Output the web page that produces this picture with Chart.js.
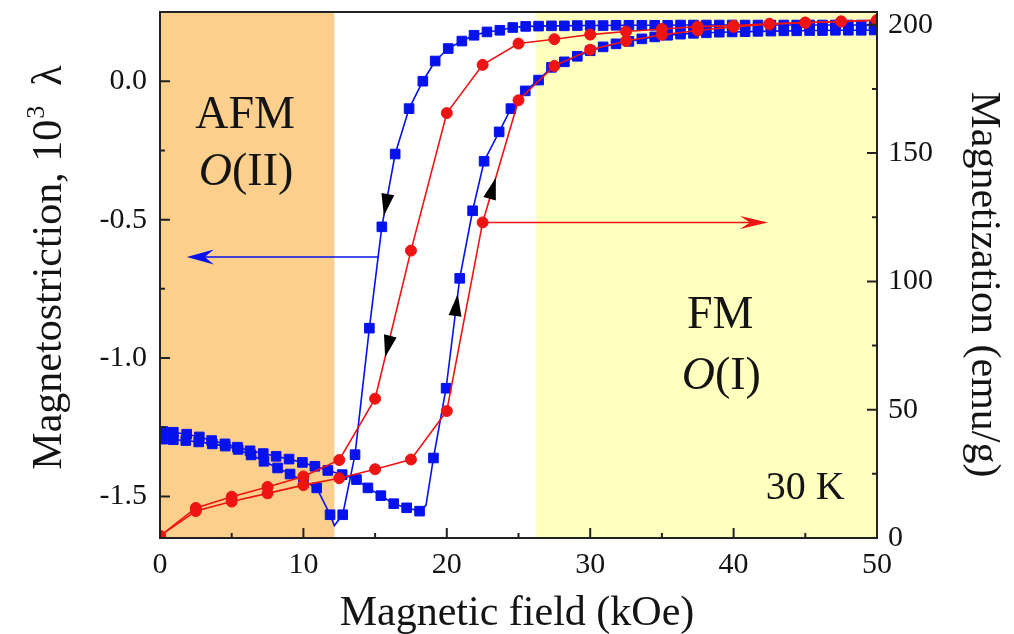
<!DOCTYPE html>
<html>
<head>
<meta charset="utf-8">
<script src="https://cdn.jsdelivr.net/npm/chart.js@4.4.0/dist/chart.umd.min.js"></script>
<style>
  html, body { margin: 0; padding: 0; background: #ffffff; }
  #wrap { width: 1014px; height: 634px; }
</style>
</head>
<body>
<div id="wrap"><canvas id="c" width="1014" height="634"></canvas></div>
<script>
// ---- Magnetization at 30 K (emu/g), one reading every 2.5 kOe ----
const fieldM = [0, 2.5, 5, 7.5, 10, 12.5, 15, 17.5, 20, 22.5, 25, 27.5, 30, 32.5, 35, 37.5, 40, 42.5, 45, 47.5, 50];
const magIncreasing = [0.8, 10.5, 14.2, 17.4, 20.6, 23.3, 26.8, 30.6, 49.5, 123, 170.6, 184, 190.3, 193.7, 196.1, 197.8, 199.2, 200.2, 200.8, 201.3, 201.8];
const magDecreasing = [0.8, 11.7, 16.1, 19.9, 24.0, 30.4, 54.3, 112, 165.6, 184.4, 192.7, 194.4, 196.2, 197.4, 198.4, 199.3, 199.7, 200.4, 200.9, 201.3, 201.8];

// ---- Magnetostriction, 10^3 lambda, field increasing ----
const fieldLambdaUp = [0.2, 0.93, 1.86, 2.74, 3.6, 4.53, 5.4, 6.28, 7.2, 8.1, 9.0, 9.93, 10.8, 11.7, 12.7,
  13.7, 14.5, 15.4, 16.3, 17.2, 18.1, 19.07, 19.95, 20.9, 21.8, 22.6, 23.65, 24.47, 25.47, 26.4,
  27.3, 28.2, 29.1, 30.0, 30.9, 31.8, 32.7, 33.6, 34.5, 35.4, 36.3, 37.2, 38.1, 39.0, 39.9,
  40.8, 41.7, 42.6, 43.5, 44.4, 45.3, 46.2, 47.1, 48.0, 48.9, 49.8];
const lambdaUp = [-1.265, -1.268, -1.275, -1.285, -1.298, -1.31, -1.322, -1.335, -1.345, -1.355, -1.365, -1.377, -1.391, -1.406, -1.421,
  -1.439, -1.469, -1.497, -1.526, -1.541, -1.553, -1.361, -1.109, -0.712, -0.468, -0.289, -0.183, -0.099, -0.035, 0.004,
  0.050, 0.070, 0.090, 0.110, 0.124, 0.135, 0.144, 0.153, 0.160, 0.166, 0.170, 0.173, 0.175, 0.177, 0.178,
  0.179, 0.180, 0.181, 0.182, 0.182, 0.183, 0.183, 0.184, 0.184, 0.184, 0.185];
// measured-curve vertices between symbols (no symbol drawn)
const fieldLambdaUpCurve = [18.55];
const lambdaUpCurve = [-1.532];

// ---- Magnetostriction, 10^3 lambda, field decreasing ----
const fieldLambdaDown = [0.2, 0.93, 1.8, 2.7, 3.65, 4.55, 5.45, 6.35, 7.25, 8.2, 9.07, 10.0, 10.93, 11.86, 12.74,
  13.6, 14.6, 15.47, 16.4, 17.37, 18.33, 19.19, 20.1, 21.05, 21.9, 22.8, 23.7, 24.6, 25.5, 26.4,
  27.3, 28.2, 29.1, 30.0, 30.9, 31.8, 32.7, 33.6, 34.5, 35.4, 36.3, 37.2, 38.1, 39.0, 39.9,
  40.8, 41.7, 42.6, 43.5, 44.4, 45.3, 46.2, 47.1, 48.0, 48.9, 49.8];
const lambdaDown = [-1.293, -1.295, -1.298, -1.303, -1.31, -1.318, -1.33, -1.35, -1.373, -1.397, -1.419, -1.445, -1.469, -1.566, -1.566,
  -1.349, -0.892, -0.526, -0.263, -0.099, 0.000, 0.073, 0.118, 0.145, 0.166, 0.178, 0.184, 0.194, 0.198, 0.199,
  0.200, 0.200, 0.201, 0.201, 0.201, 0.202, 0.202, 0.202, 0.202, 0.202, 0.203, 0.203, 0.203, 0.203, 0.203,
  0.203, 0.203, 0.203, 0.203, 0.203, 0.203, 0.203, 0.203, 0.203, 0.203, 0.203];
const fieldLambdaDownCurve = [12.16];
const lambdaDownCurve = [-1.605];

// ---- tick values ----
const fieldTicks = [0, 10, 20, 30, 40, 50];
const fieldMinorTicks = [5, 15, 25, 35, 45];
const lambdaTicks = [-1.5, -1.0, -0.5, 0.0];
const lambdaMinorTicks = [-1.25, -0.75, -0.25];
const magTicks = [0, 50, 100, 150, 200];
const magMinorTicks = [25, 75, 125, 175];

// ---- phase regions (kOe) ----
const afmRegion = [0, 12.16];
const fmRegion = [26.24, 50];

const SERIF = "'Liberation Serif', 'Times New Roman', serif";
const BLUE = '#0512EE';
const RED = '#EE1414';
const INK = '#141414';

function buildSeries(fields, values, extraFields, extraValues) {
  const pts = fields.map((f, i) => ({ x: f, y: values[i], marker: true }));
  (extraFields || []).forEach((f, i) => pts.push({ x: f, y: extraValues[i], marker: false }));
  return pts.sort((a, b) => a.x - b.x);
}

const redUp = buildSeries(fieldM, magIncreasing);
const redDown = buildSeries(fieldM, magDecreasing);
const blueUp = buildSeries(fieldLambdaUp, lambdaUp, fieldLambdaUpCurve, lambdaUpCurve);
const blueDown = buildSeries(fieldLambdaDown, lambdaDown, fieldLambdaDownCurve, lambdaDownCurve);

// sweep-direction triangles: dataset index, field (kOe), +1 = toward higher field
const sweepMarks = [
  { dataset: 3, field: 15.75, dir: -1 },
  { dataset: 1, field: 15.88, dir: -1 },
  { dataset: 0, field: 23.2, dir: 1 },
  { dataset: 2, field: 20.67, dir: 1 }
];

function fixedBox(w, h) {
  return function (s) {
    if (w !== null) s.width = w;
    if (h !== null) s.height = h;
    s.paddingTop = 0; s.paddingBottom = 0; s.paddingLeft = 0; s.paddingRight = 0;
  };
}

function pointOnSeries(chart, di, field) {
  const ds = chart.data.datasets[di];
  const xs = chart.scales.x, ys = chart.scales[ds.yAxisID];
  const d = ds.data;
  for (let i = 0; i < d.length - 1; i++) {
    const a = d[i], b = d[i + 1];
    if (field >= a.x && field <= b.x) {
      const t = (field - a.x) / (b.x - a.x);
      const ax = xs.getPixelForValue(a.x), ay = ys.getPixelForValue(a.y);
      const bx = xs.getPixelForValue(b.x), by = ys.getPixelForValue(b.y);
      return { x: ax + t * (bx - ax), y: ay + t * (by - ay), dx: bx - ax, dy: by - ay };
    }
  }
  return null;
}

function triangle(ctx, cx, cy, ux, uy, len, wid) {
  const nx = -uy, ny = ux;
  ctx.beginPath();
  ctx.moveTo(cx + ux * len / 2, cy + uy * len / 2);
  ctx.lineTo(cx - ux * len / 2 + nx * wid / 2, cy - uy * len / 2 + ny * wid / 2);
  ctx.lineTo(cx - ux * len / 2 - nx * wid / 2, cy - uy * len / 2 - ny * wid / 2);
  ctx.closePath();
  ctx.fill();
}

function barbedArrow(ctx, x0, y0, x1, y1, color, len, halfW, notch) {
  const L = Math.hypot(x1 - x0, y1 - y0);
  const ux = (x1 - x0) / L, uy = (y1 - y0) / L;
  const nx = -uy, ny = ux;
  ctx.save();
  ctx.strokeStyle = color; ctx.fillStyle = color; ctx.lineWidth = 1.5;
  ctx.beginPath();
  ctx.moveTo(x0, y0);
  ctx.lineTo(x1 - ux * (len - notch), y1 - uy * (len - notch));
  ctx.stroke();
  ctx.beginPath();
  ctx.moveTo(x1, y1);
  ctx.lineTo(x1 - ux * len + nx * halfW, y1 - uy * len + ny * halfW);
  ctx.lineTo(x1 - ux * (len - notch), y1 - uy * (len - notch));
  ctx.lineTo(x1 - ux * len - nx * halfW, y1 - uy * len - ny * halfW);
  ctx.closePath();
  ctx.fill();
  ctx.restore();
}

const phasePlugin = {
  id: 'phases',
  beforeDatasetsDraw(chart) {
    const { ctx, chartArea: a, scales: { x } } = chart;
    ctx.save();
    ctx.fillStyle = '#FCCF8C';
    const l0 = x.getPixelForValue(afmRegion[0]), l1 = x.getPixelForValue(afmRegion[1]);
    ctx.fillRect(l0, a.top, l1 - l0, a.bottom - a.top);
    ctx.fillStyle = '#FFFFBE';
    const f0 = x.getPixelForValue(fmRegion[0]), f1 = x.getPixelForValue(fmRegion[1]);
    ctx.fillRect(f0, a.top, f1 - f0, a.bottom - a.top);
    ctx.restore();
  }
};

const framePlugin = {
  id: 'frame',
  afterDatasetsDraw(chart) {
    const { ctx, chartArea: a, scales } = chart;
    const x = scales.x, yl = scales.y, yr = scales.y2;

    // arrows pointing from each curve to its axis
    const bl = pointOnSeries(chart, 3, 15.21);
    barbedArrow(ctx, bl.x, bl.y, x.getPixelForValue(1.87), bl.y, BLUE, 27, 7.5, 9);
    const rd = { x: x.getPixelForValue(22.5), y: yr.getPixelForValue(123) };
    barbedArrow(ctx, rd.x, rd.y, x.getPixelForValue(42.4), rd.y, RED, 28, 6.5, 10);

    // sweep-direction triangles
    ctx.save();
    ctx.fillStyle = '#000';
    sweepMarks.forEach(m => {
      const p = pointOnSeries(chart, m.dataset, m.field);
      if (!p) return;
      const L = Math.hypot(p.dx, p.dy);
      triangle(ctx, p.x, p.y, m.dir * p.dx / L, m.dir * p.dy / L, 22, 13);
    });
    ctx.restore();

    // frame and inward ticks
    ctx.save();
    ctx.strokeStyle = '#222';
    ctx.lineWidth = 2;
    ctx.strokeRect(a.left, a.top, a.right - a.left, a.bottom - a.top);
    ctx.beginPath();
    const tick = (x0, y0, x1, y1) => { ctx.moveTo(x0, y0); ctx.lineTo(x1, y1); };
    fieldTicks.forEach(v => { const p = x.getPixelForValue(v); tick(p, a.bottom, p, a.bottom - 10); });
    fieldMinorTicks.forEach(v => { const p = x.getPixelForValue(v); tick(p, a.bottom, p, a.bottom - 5); });
    lambdaTicks.forEach(v => { const p = yl.getPixelForValue(v); tick(a.left, p, a.left + 10, p); });
    lambdaMinorTicks.forEach(v => { const p = yl.getPixelForValue(v); tick(a.left, p, a.left + 5, p); });
    magTicks.forEach(v => { const p = yr.getPixelForValue(v); tick(a.right, p, a.right - 10, p); });
    magMinorTicks.forEach(v => { const p = yr.getPixelForValue(v); tick(a.right, p, a.right - 5, p); });
    ctx.stroke();
    ctx.restore();

    // phase labels
    const X = v => x.getPixelForValue(v), Y = v => yl.getPixelForValue(v);
    ctx.save();
    ctx.fillStyle = INK;
    ctx.textBaseline = 'alphabetic';
    ctx.textAlign = 'center';
    ctx.font = '46px ' + SERIF;
    ctx.fillText('AFM', X(5.93), Y(-0.170));
    ctx.fillText('FM', X(39.07), Y(-0.891));
    ctx.font = '40px ' + SERIF;
    ctx.fillText('30 K', X(45.0), Y(-1.508));
    const orth = (label, cx, by) => {
      ctx.textAlign = 'left';
      ctx.font = 'italic 46px ' + SERIF;
      const wO = ctx.measureText('O').width;
      ctx.font = '46px ' + SERIF;
      const wR = ctx.measureText(label).width;
      const start = cx - (wO + wR) / 2;
      ctx.font = 'italic 46px ' + SERIF;
      ctx.fillText('O', start, by);
      ctx.font = '46px ' + SERIF;
      ctx.fillText(label, start + wO, by);
    };
    orth('(II)', X(6.0), Y(-0.375));
    orth('(I)', X(39.14), Y(-1.111));
    ctx.restore();
  },
  afterDraw(chart) {
    const { ctx } = chart;
    ctx.save();
    ctx.fillStyle = INK;
    ctx.textBaseline = 'alphabetic';

    // bottom title
    ctx.font = '42px ' + SERIF;
    ctx.textAlign = 'center';
    ctx.fillText('Magnetic field (kOe)', 517, 625);

    // left title with superscript
    ctx.save();
    ctx.translate(61, 267.5);
    ctx.rotate(-Math.PI / 2);
    ctx.textAlign = 'left';
    const big = '42px ' + SERIF, small = '26px ' + SERIF;
    ctx.font = big; const w1 = ctx.measureText('Magnetostriction, 10').width;
    ctx.font = small; const w2 = ctx.measureText('3').width;
    ctx.font = big; const w3 = ctx.measureText('  \u03BB').width;
    let s = -(w1 + w2 + w3) / 2;
    ctx.font = big; ctx.fillText('Magnetostriction, 10', s, 0); s += w1;
    ctx.font = small; ctx.fillText('3', s + 1, -17); s += w2;
    ctx.font = big; ctx.fillText('  \u03BB', s, 0);
    ctx.restore();

    // right title
    ctx.save();
    ctx.translate(972, 284.5);
    ctx.rotate(Math.PI / 2);
    ctx.textAlign = 'center';
    ctx.font = '42px ' + SERIF;
    ctx.fillText('Magnetization (emu/g)', 0, 0);
    ctx.restore();

    ctx.restore();
  }
};

const tickFont = { family: SERIF, size: 30 };

new Chart(document.getElementById('c'), {
  type: 'scatter',
  data: {
    datasets: [
      { label: 'M, field increasing', data: redUp, yAxisID: 'y2', order: 0, showLine: true,
        borderColor: RED, backgroundColor: RED, borderWidth: 1.6, pointStyle: 'circle',
        pointRadius: 5.5, pointBorderWidth: 1, pointBorderColor: RED, clip: 0 },
      { label: 'M, field decreasing', data: redDown, yAxisID: 'y2', order: 0, showLine: true,
        borderColor: RED, backgroundColor: RED, borderWidth: 1.6, pointStyle: 'circle',
        pointRadius: 5.5, pointBorderWidth: 1, pointBorderColor: RED, clip: 0 },
      { label: 'lambda, field increasing', data: blueUp, yAxisID: 'y', order: 1, showLine: true,
        borderColor: BLUE, backgroundColor: BLUE, borderWidth: 1.6, pointStyle: 'rect',
        pointRadius: c => (c.raw && c.raw.marker ? 6.8 : 0), pointBorderWidth: 1, pointBorderColor: BLUE, clip: 0 },
      { label: 'lambda, field decreasing', data: blueDown, yAxisID: 'y', order: 1, showLine: true,
        borderColor: BLUE, backgroundColor: BLUE, borderWidth: 1.6, pointStyle: 'rect',
        pointRadius: c => (c.raw && c.raw.marker ? 6.8 : 0), pointBorderWidth: 1, pointBorderColor: BLUE, clip: 0 }
    ]
  },
  options: {
    responsive: false,
    animation: false,
    devicePixelRatio: 1,
    layout: { padding: { top: 12, left: 0, right: 0, bottom: 0 } },
    plugins: { legend: { display: false }, tooltip: { enabled: false } },
    elements: { line: { tension: 0 } },
    scales: {
      x: {
        type: 'linear', position: 'bottom', min: 0, max: 50,
        grid: { display: false, drawTicks: false }, border: { display: false },
        afterBuildTicks: s => { s.ticks = fieldTicks.map(v => ({ value: v })); },
        ticks: { padding: 9, font: tickFont, color: INK, maxRotation: 0, autoSkip: false,
                 callback: v => String(v) },
        afterFit: fixedBox(null, 96)
      },
      y: {
        type: 'linear', position: 'left', min: -1.65, max: 0.25,
        grid: { display: false, drawTicks: false }, border: { display: false },
        afterBuildTicks: s => { s.ticks = lambdaTicks.map(v => ({ value: v })); },
        ticks: { padding: 13, font: tickFont, color: INK, callback: v => Number(v).toFixed(1) },
        afterFit: fixedBox(160, null)
      },
      y2: {
        type: 'linear', position: 'right', min: 0, max: 205,
        grid: { display: false, drawTicks: false }, border: { display: false },
        afterBuildTicks: s => { s.ticks = magTicks.map(v => ({ value: v })); },
        ticks: { padding: 11, font: tickFont, color: INK, callback: v => String(v) },
        afterFit: fixedBox(137, null)
      }
    }
  },
  plugins: [phasePlugin, framePlugin]
});
</script>
</body>
</html>
